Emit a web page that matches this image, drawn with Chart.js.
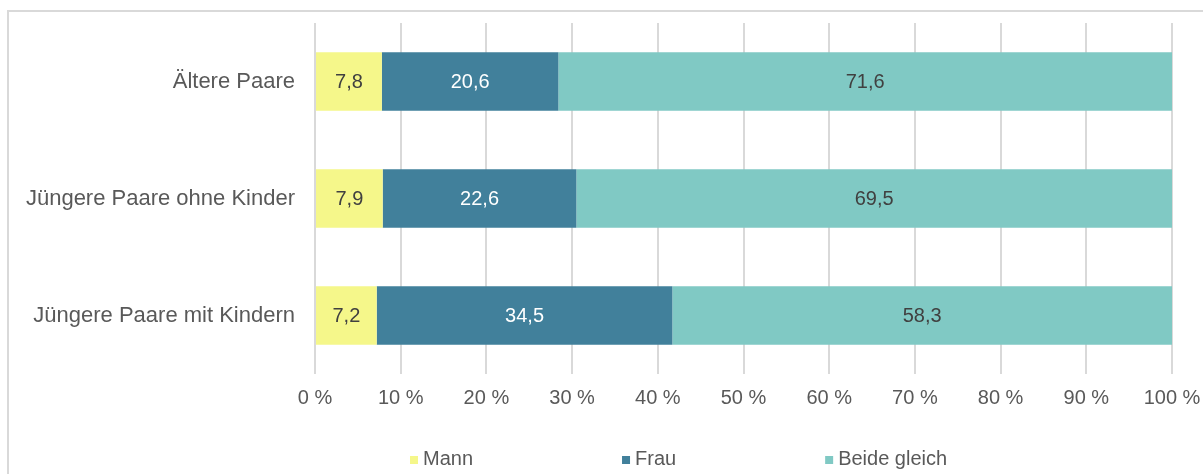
<!DOCTYPE html>
<html>
<head>
  <title>Aufteilung nach Paartyp</title>
  <script src="https://cdn.jsdelivr.net/npm/chart.js"></script>
  <style>
    html, body { margin: 0; padding: 0; background: #fff; }
    #wrap { position: relative; width: 1203px; height: 474px; }
  </style>
</head>
<body>
  <div id="wrap">
    <canvas id="chart" width="1203" height="474"></canvas>
  </div>

  <script>
    // Werte in Prozent
    const categories = ['Ältere Paare', 'Jüngere Paare ohne Kinder', 'Jüngere Paare mit Kindern'];
    const seriesNames = ['Mann', 'Frau', 'Beide gleich'];
    const mannValues = [7.8, 7.9, 7.2];
    const frauValues = [20.6, 22.6, 34.5];
    const beideValues = [71.6, 69.5, 58.3];
    const tickValues = [0, 10, 20, 30, 40, 50, 60, 70, 80, 90, 100];

    const FONT = '"Liberation Sans", Arial, sans-serif';

    // grauer Rahmen oben / links
    const framePlugin = {
      id: 'frame',
      beforeDraw(chart) {
        const ctx = chart.ctx;
        ctx.save();
        ctx.strokeStyle = '#d9d9d9';
        ctx.lineWidth = 2;
        ctx.beginPath();
        ctx.moveTo(8, chart.height);
        ctx.lineTo(8, 11);
        ctx.lineTo(chart.width, 11);
        ctx.stroke();
        ctx.restore();
      }
    };

    // Zahlen in die Balken schreiben
    const valueLabels = {
      id: 'valueLabels',
      afterDatasetsDraw(chart) {
        const ctx = chart.ctx;
        ctx.save();
        ctx.font = '20px ' + FONT;
        ctx.textAlign = 'center';
        ctx.textBaseline = 'middle';
        chart.data.datasets.forEach((ds, i) => {
          chart.getDatasetMeta(i).data.forEach((bar, j) => {
            const v = ds.data[j];
            const cx = (bar.x + bar.base) / 2;
            ctx.fillStyle = ds.labelColor;
            ctx.fillText(v.toFixed(1).replace('.', ','), cx, bar.y + 1);
          });
        });
        ctx.restore();
      }
    };

    // Legende unten, weit auseinander
    const bottomLegend = {
      id: 'bottomLegend',
      afterDraw(chart, args, opts) {
        const ctx = chart.ctx;
        ctx.save();
        ctx.font = '20px ' + FONT;
        ctx.textBaseline = 'middle';
        let x = opts.startX;
        const y = opts.y;
        chart.data.datasets.forEach(ds => {
          ctx.fillStyle = ds.backgroundColor;
          ctx.fillRect(x, y - 3, 8, 8);
          ctx.fillStyle = '#595959';
          ctx.fillText(ds.label, x + 13, y);
          x += 13 + ctx.measureText(ds.label).width + opts.gap;
        });
        ctx.restore();
      }
    };

    const ctx = document.getElementById('chart').getContext('2d');
    new Chart(ctx, {
      type: 'bar',
      data: {
        labels: categories,
        datasets: [
          { label: seriesNames[0], data: mannValues, backgroundColor: '#f5f78a', labelColor: '#404040' },
          { label: seriesNames[1], data: frauValues, backgroundColor: '#41809b', labelColor: '#ffffff' },
          { label: seriesNames[2], data: beideValues, backgroundColor: '#80c9c4', labelColor: '#404040' }
        ]
      },
      options: {
        indexAxis: 'y',
        responsive: false,
        animation: false,
        datasets: {
          bar: { barPercentage: 0.5, categoryPercentage: 1.0, borderWidth: 0 }
        },
        layout: { padding: { left: 0, top: 23, right: 31, bottom: 0 } },
        scales: {
          x: {
            stacked: true,
            min: 0,
            max: 100,
            afterBuildTicks(scale) {
              scale.ticks = tickValues.map(v => ({ value: v }));
            },
            afterFit(scale) {
              scale.height = 100;
              scale.paddingLeft = 0;
              scale.paddingRight = 0;
            },
            grid: { color: '#d9d9d9', lineWidth: 2, drawTicks: false },
            border: { display: false },
            ticks: {
              padding: 12,
              color: '#595959',
              font: { size: 20, family: FONT },
              callback: v => v + ' %'
            }
          },
          y: {
            stacked: true,
            afterFit(scale) {
              scale.width = 315;
              scale.paddingTop = 0;
              scale.paddingBottom = 0;
            },
            grid: { display: false, drawTicks: false },
            border: { display: false },
            ticks: {
              padding: 20,
              color: '#595959',
              font: { size: 22, family: FONT }
            }
          }
        },
        plugins: {
          legend: { display: false },
          tooltip: { enabled: false },
          bottomLegend: { startX: 410, y: 459, gap: 149 }
        }
      },
      plugins: [framePlugin, valueLabels, bottomLegend]
    });
  </script>
</body>
</html>
